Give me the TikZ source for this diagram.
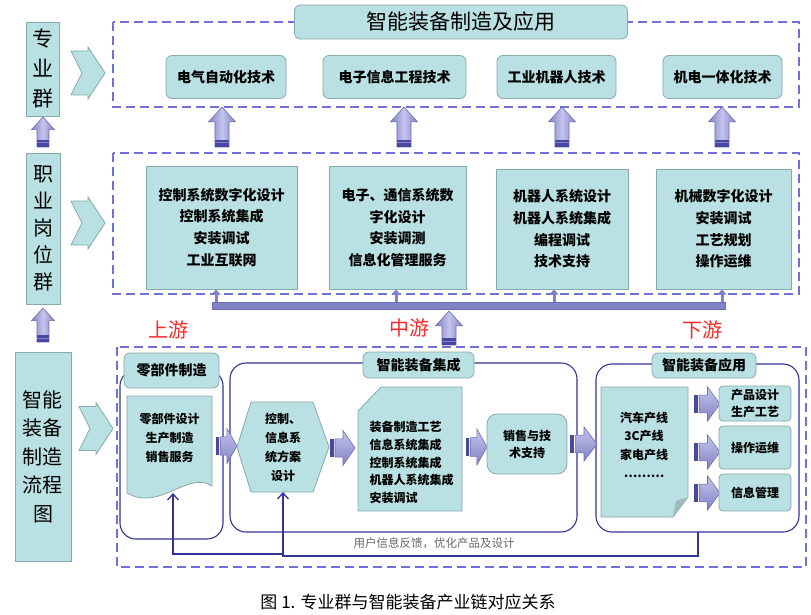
\documentclass[tikz,border=0pt]{standalone}
\usepackage{fontspec}
\setmainfont{Noto Sans CJK SC}
\usetikzlibrary{arrows.meta}
\definecolor{tealf}{RGB}{185,224,226}
\definecolor{teale}{RGB}{135,170,172}
\definecolor{dashc}{RGB}{112,112,218}
\definecolor{grpc}{RGB}{52,52,150}
\definecolor{arrl}{RGB}{196,196,236}
\definecolor{arrm}{RGB}{130,130,198}
\definecolor{arrd}{RGB}{72,72,160}
\definecolor{redl}{RGB}{255,40,40}
\newcommand\fsz[2]{\fontsize{#1}{#2}\selectfont}
% vertical fat arrow: centre x, tip y, tail y, head width
\newcommand\fatUp[4]{%
 \begin{scope}[shift={(#1,0)}]
 \shade[left color=arrm, right color=arrm, middle color=arrl, draw=arrd!80, line width=0.6]
   (-#4*0.26,#3) -- (-#4*0.26,#2+#4*0.55) -- (-#4/2,#2+#4*0.55) -- (0,#2) -- (#4/2,#2+#4*0.55) -- (#4*0.26,#2+#4*0.55) -- (#4*0.26,#3) -- cycle;
 \fill[arrd] (-#4*0.26,#3-7) rectangle (#4*0.26,#3);
 \fill[arrm] (-#4*0.26,#3-4.5) rectangle (#4*0.26,#3-3.5);
 \end{scope}}
% horizontal striped fat arrow: left x, centre y, width, height
\newcommand\fatRt[4]{%
 \begin{scope}[shift={(#1,#2)}]
  \fill[arrd] (0,-#4*0.26) rectangle (#3*0.15,#4*0.26);
  \shade[top color=arrl, bottom color=arrm, draw=arrd!80, line width=0.6]
   (#3*0.2,-#4*0.26) -- (#3*0.52,-#4*0.26) -- (#3*0.52,-#4/2) -- (#3,0) -- (#3*0.52,#4/2) -- (#3*0.52,#4*0.26) -- (#3*0.2,#4*0.26) -- cycle;
 \end{scope}}
% light notched chevron: left x, centre y
\newcommand\chev[2]{%
 \begin{scope}[shift={(#1,#2)}]
  \draw[fill=tealf, draw=teale, line width=0.8] (0,-22) -- (17,-22) -- (17,-26) -- (34,0) -- (17,26) -- (17,22) -- (0,22) -- (11,0) -- cycle;
 \end{scope}}
\begin{document}
\begin{tikzpicture}[x=1pt,y=-1pt,
  tealbox/.style={draw=teale, fill=tealf, line width=0.8, inner sep=0pt, align=center},
  rbox/.style={tealbox, rounded corners=6},
  dashbox/.style={draw=dashc, line width=1.6, dash pattern=on 9pt off 5pt},
  grp/.style={draw=grpc, line width=1.1, rounded corners=16},
  fb/.style={draw=grpc, line width=1.3},
  bt/.style={font=\fsz{14}{21.7}\bfseries},
  st/.style={font=\fsz{12}{19}\bfseries, align=center},
  redlab/.style={text=redl, font=\fsz{20}{20}}]
\useasboundingbox (0,0) rectangle (811,615);
\fill[white] (0,0) rectangle (811,615);

% left column
\node[tealbox, minimum width=33, minimum height=94, font=\fsz{21}{30}] (zyq) at (43,69) {专\\业\\群};
\node[tealbox, minimum width=34, minimum height=151, font=\fsz{20}{27}] (zygw) at (43.5,228.5) {职\\业\\岗\\位\\群};
\node[tealbox, minimum width=56, minimum height=209, font=\fsz{20}{28.5}] (lct) at (43,456.5) {智能\\装备\\制造\\流程\\图};
\fatUp{43}{117}{147}{23}
\fatUp{43}{308}{342}{23}
\chev{71}{73}
\chev{71}{223}
\chev{79}{428.5}

% top band
\draw[dashbox] (113,22) rectangle (799,107);
\node[rbox, minimum width=333, minimum height=34, font=\fsz{21}{21}] (title) at (461,22) {智能装备制造及应用};
\node[rbox, minimum width=120, minimum height=43, bt] (s1) at (226,77) {电气自动化技术};
\node[rbox, minimum width=143, minimum height=43, bt] (s2) at (394.5,77) {电子信息工程技术};
\node[rbox, minimum width=119, minimum height=43, bt] (s3) at (556.5,77) {工业机器人技术};
\node[rbox, minimum width=119, minimum height=43, bt] (s4) at (722.5,77) {机电一体化技术};
\fatUp{222}{107}{147}{27}
\fatUp{404}{107}{147}{27}
\fatUp{562}{107}{147}{27}
\fatUp{722}{107}{147}{27}

% middle band
\draw[dashbox] (113,153) rectangle (799,294);
\node[tealbox, minimum width=151, minimum height=123, bt] (j1) at (221.5,227.5) {控制系统数字化设计\\控制系统集成\\安装调试\\工业互联网};
\node[tealbox, minimum width=137, minimum height=123, bt] (j2) at (397.5,227.5) {电子、通信系统数\\字化设计\\安装调测\\信息化管理服务};
\node[tealbox, minimum width=132, minimum height=120, bt] (j3) at (562,229) {机器人系统设计\\机器人系统集成\\编程调试\\技术支持};
\node[tealbox, minimum width=135, minimum height=120, bt] (j4) at (723.5,229) {机械数字化设计\\安装调试\\工艺规划\\操作运维};
% bus
\foreach \xx in {216,396,554,722}{
  \draw[arrm, line width=3, -{Triangle[length=5pt,width=9pt]}] (\xx,304) -- (\xx,289.5);
}
\filldraw[fill=arrm, draw=arrd!80, line width=0.6] (212,302.5) rectangle (725,309.5);
\fatUp{449}{311}{345}{27}

\node[redlab] (up) at (168,330) {上游};
\node[redlab] (mid) at (409,328) {中游};
\node[redlab] (down) at (702,330) {下游};

% lower band
\draw[dashbox] (117,347) rectangle (806,567);
\draw[grp] (120,370) rectangle (223,539);
\draw[grp] (230,363) rectangle (577,532);
\draw[grp] (596,364) rectangle (799,532);
\node[rbox, minimum width=95, minimum height=35, font=\fsz{14}{14}\bfseries] (g1) at (171.5,370.5) {零部件制造};
\node[rbox, minimum width=111, minimum height=26, font=\fsz{14}{14}\bfseries] (g2) at (418.5,365) {智能装备集成};
\node[rbox, minimum width=104, minimum height=25, font=\fsz{14}{14}\bfseries] (g3) at (704,365.5) {智能装备应用};

% document with wavy bottom
\draw[fill=tealf, draw=teale, line width=0.8] (127,396) -- (212,396) -- (212,486) .. controls (188,470) and (160,512) .. (127,493) -- cycle;
\node[st] (d1) at (169.5,438) {零部件设计\\生产制造\\销售服务};
\coordinate (d1b) at (173,493);
\fatRt{216}{446}{21}{35}

% hexagon
\draw[fill=tealf, draw=teale, line width=0.8] (237,447) -- (251,402) -- (313,402) -- (329,447) -- (313,492) -- (251,492) -- cycle;
\node[st] (hx) at (283,447) {控制、\\信息系\\统方案\\设计};
\coordinate (hxb) at (283,492);
\fatRt{330}{448}{25}{35}

% snipped rectangle
\draw[fill=tealf, draw=teale, line width=0.8] (358,411) -- (381,387) -- (462,387) -- (462,511) -- (358,511) -- cycle;
\node[font=\fsz{12}{17.8}\bfseries, align=left, anchor=west] (sn) at (366,462.5) {装备制造工艺\\信息系统集成\\控制系统集成\\机器人系统集成\\安装调试};
\fatRt{466}{447}{21}{36}

\node[tealbox, rounded corners=10, minimum width=80, minimum height=60, font=\fsz{12}{17}\bfseries] (sales) at (527,444) {销售与技\\术支持};
\fatRt{570}{444}{27}{34}

% folded document
\draw[fill=tealf, draw=teale, line width=0.8] (601,387) -- (688,387) -- (688,497) -- (673,517) -- (601,517) -- cycle;
\fill[teale!80] (688,497) -- (673,517) -- (676,501) -- cycle;
\node[font=\fsz{12}{18.5}\bfseries, align=center] (lines) at (644,445) {汽车产线\\3C产线\\家电产线\\………};

\fatRt{694}{404}{26}{34}
\fatRt{694}{452}{26}{34}
\fatRt{694}{493}{26}{34}
\node[rbox, rounded corners=4, minimum width=72, minimum height=35, font=\fsz{12}{17}\bfseries] (a1) at (755,403.5) {产品设计\\生产工艺};
\node[rbox, rounded corners=4, minimum width=72, minimum height=43, font=\fsz{12}{17}\bfseries] (a2) at (755,447.5) {操作运维};
\node[rbox, rounded corners=4, minimum width=72, minimum height=37, font=\fsz{12}{17}\bfseries] (a3) at (755,492.5) {信息管理};

% feedback
\coordinate (g3b) at (698,532);
\draw[fb, -{Straight Barb[length=6pt,width=11pt]}] (g3b) -- (698,556) -- (283,556) -- (hxb);
\draw[fb, -{Straight Barb[length=6pt,width=11pt]}] (283,554) -- (173,554) -- (d1b);
\node[text=black!60, font=\fsz{11.5}{12}] (fbt) at (434,543) {用户信息反馈，优化产品及设计};

% caption
\node[font=\fsz{17}{17}] (cap) at (408,602) {图 1. 专业群与智能装备产业链对应关系};
\end{tikzpicture}
\end{document}
